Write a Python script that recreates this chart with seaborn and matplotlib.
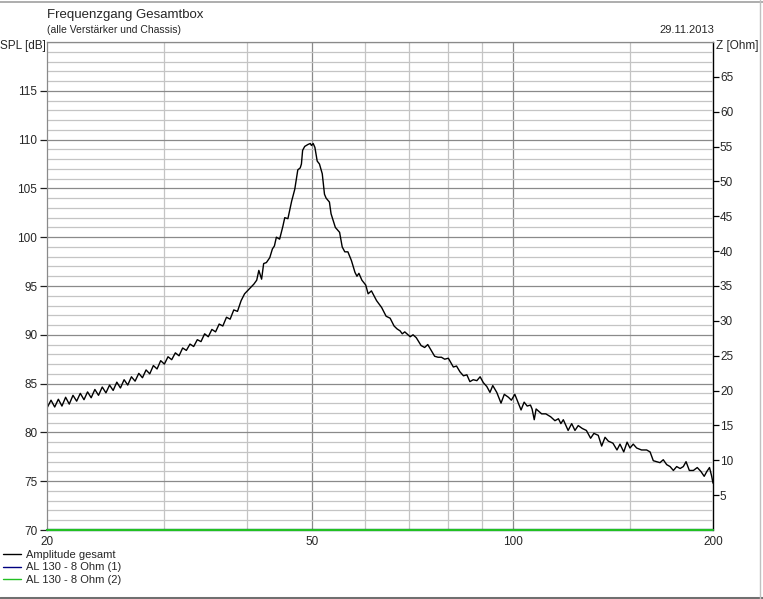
import pandas as pd
import seaborn as sns
import matplotlib.pyplot as plt
from matplotlib.ticker import NullLocator
from matplotlib.lines import Line2D

# --- data ---
freq_hz = [
    20.00, 20.28, 20.54, 20.80, 21.06, 21.33, 21.60, 21.88, 22.16, 22.44,
    22.73, 23.01, 23.30, 23.60, 23.90, 24.21, 24.52, 24.83, 25.14, 25.46,
    25.78, 26.11, 26.44, 26.78, 27.12, 27.47, 27.82, 28.17, 28.53, 28.89,
    29.26, 29.63, 30.01, 30.39, 30.78, 31.17, 31.57, 31.97, 32.38, 32.79,
    33.21, 33.63, 34.06, 34.49, 34.93, 35.37, 35.82, 36.27, 36.73, 37.20,
    37.67, 38.15, 38.64, 39.13,
    39.6, 40.9, 41.3, 41.6, 42.0, 42.3, 42.7, 43.2, 43.6, 43.9,
    44.2, 44.7, 45.2, 45.5, 46.0, 46.6, 47.1, 47.6, 48.0, 48.2,
    48.4, 48.75, 49.3, 49.7, 49.9, 50.2, 50.5, 50.9, 51.3, 51.8,
    52.2, 52.5, 53.1, 53.4, 54.2, 55.0, 55.5, 56.0, 56.6, 57.3,
    58.0, 58.4, 58.8, 59.4, 60.2, 60.7, 61.4, 62.5, 63.6, 64.6,
    65.5, 66.4, 67.1, 67.8, 68.3, 68.9, 70.2, 70.9, 71.7, 72.9,
    73.8, 74.6, 75.5, 76.4, 77.3, 78.2, 79.1, 80.1, 81.5, 82.4,
    83.4, 84.4, 85.4, 86.3, 87.3, 88.4, 89.4, 90.4, 91.5, 92.5,
    93.4, 94.7, 96.1, 97.2, 98.6, 99.6, 100.8, 101.9, 103.0, 104.1,
    105.2, 106.4, 107.0, 107.8, 108.5, 110.6, 112.2, 114.1, 115.8, 117.2,
    118.2, 119.2, 120.3, 121.2, 122.7, 124.1, 125.5, 127.3, 129.1, 131.0,
    132.5, 134.5, 136.1, 137.7, 139.3, 141.5, 143.5, 145.0, 146.9, 148.6,
    150.1, 151.8, 153.6, 156.2, 159.0, 160.9, 162.7, 164.6, 166.5, 168.4,
    170.4, 172.4, 174.4, 176.4, 178.5, 180.5, 182.2, 184.3, 186.9, 189.4,
    191.8, 194.0, 195.8, 197.6, 199.1, 200.0,
]
spl_db = [
    82.5, 83.3, 82.6, 83.4, 82.7, 83.6, 82.9, 83.8, 83.2, 84.0,
    83.35, 84.15, 83.55, 84.4, 83.8, 84.65, 84.05, 84.85, 84.3, 85.15,
    84.55, 85.4, 84.85, 85.7, 85.25, 86.05, 85.6, 86.4, 86.0, 86.85,
    86.5, 87.35, 87.0, 87.75, 87.45, 88.15, 87.85, 88.65, 88.4, 89.05,
    88.8, 89.5, 89.3, 90.1, 89.8, 90.55, 90.3, 91.1, 90.9, 91.8,
    91.6, 92.55, 92.4, 93.5,
    94.2, 95.2, 95.6, 96.6, 95.7, 97.3, 97.4, 97.9, 98.8, 99.1,
    100.0, 99.8, 101.1, 102.0, 101.9, 103.7, 104.9, 106.9, 107.1, 107.5,
    108.9, 109.3, 109.5, 109.6, 109.4, 109.6, 109.2, 107.8, 107.5, 106.5,
    104.4, 104.0, 103.6, 102.4, 101.0, 100.5, 99.0, 98.5, 98.5, 97.6,
    96.4, 96.0, 96.3, 95.6, 95.1, 94.2, 94.5, 93.5, 92.8, 91.9,
    91.7, 90.9, 90.6, 90.4, 90.1, 90.3, 89.8, 90.0, 89.7, 88.9,
    88.7, 89.0, 88.4, 87.8, 87.7, 87.7, 87.5, 87.6, 86.7, 86.8,
    86.2, 85.8, 85.9, 85.2, 85.4, 85.3, 85.7, 85.1, 84.7, 84.1,
    84.8, 84.1, 83.0, 83.9, 83.6, 83.3, 83.9, 83.1, 82.3, 83.1,
    82.7, 82.8, 82.4, 81.3, 82.4, 81.9, 81.9, 81.6, 81.2, 81.4,
    80.9, 81.3, 80.7, 80.2, 80.9, 80.2, 80.7, 80.4, 80.2, 79.4,
    79.9, 79.7, 78.6, 79.5, 79.1, 78.9, 78.2, 78.8, 78.0, 79.0,
    78.4, 78.8, 78.4, 78.2, 78.2, 78.0, 77.1, 77.0, 76.9, 77.2,
    76.7, 76.5, 76.1, 76.5, 76.3, 76.5, 77.0, 76.1, 76.1, 76.4,
    76.0, 75.5, 76.0, 76.4, 75.5, 74.8,
]

# the two chassis curves sit on the bottom edge of the chart
al130_freq_hz = [20, 200]
al130_1_db = [70.0, 70.0]
al130_2_db = [70.0, 70.0]

series_labels = ["Amplitude gesamt", "AL 130 - 8 Ohm (1)", "AL 130 - 8 Ohm (2)"]
series_colors = ["black", "#000080", "#22c022"]

x_ticks = [20, 50, 100, 200]
x_grid_major = [50, 100]
x_grid_minor = [30, 40, 60, 70, 80, 90, 150]
spl_ticks = [70, 75, 80, 85, 90, 95, 100, 105, 110, 115]
z_ticks = [5, 10, 15, 20, 25, 30, 35, 40, 45, 50, 55, 60, 65]

sns.set_style("white")
plt.rcParams["font.family"] = ["Liberation Sans", "DejaVu Sans"]

W, H = 763, 599
fig = plt.figure(figsize=(W / 100, H / 100), dpi=100)
ax = fig.add_axes([47 / W, 69 / H, 666 / W, 488 / H])

df = pd.DataFrame({"freq": freq_hz, "spl": spl_db})
df_al = pd.DataFrame({"freq": al130_freq_hz, "al1": al130_1_db, "al2": al130_2_db})

# grid first so the curve is drawn on top
for f in x_grid_minor:
    ax.axvline(f, color="#c4c4c4", lw=0.9, zorder=0)
for f in x_grid_major:
    ax.axvline(f, color="#8a8a8a", lw=0.9, zorder=0)
for v in range(71, 121):
    c = "#8a8a8a" if v % 5 == 0 else "#c4c4c4"
    ax.axhline(v, color=c, lw=0.9, zorder=0)

sns.lineplot(data=df, x="freq", y="spl", ax=ax, color=series_colors[0], lw=1.0,
             sort=False, estimator=None, label=series_labels[0])
sns.lineplot(data=df_al, x="freq", y="al1", ax=ax, color=series_colors[1], lw=1.6,
             sort=False, estimator=None, label=series_labels[1])
sns.lineplot(data=df_al, x="freq", y="al2", ax=ax, color=series_colors[2], lw=1.6,
             sort=False, estimator=None, label=series_labels[2])
for ln in ax.get_lines()[-2:]:
    ln.set_clip_on(False)
    ln.set_zorder(6)

ax.set_xscale("log")
ax.set_xlim(20, 200)
ax.set_ylim(70, 120)
ax.set_xticks(x_ticks)
ax.set_xticklabels([str(t) for t in x_ticks])
ax.xaxis.set_minor_locator(NullLocator())
ax.set_yticks(spl_ticks)
ax.set_yticklabels([str(t) for t in spl_ticks])
ax.yaxis.set_minor_locator(NullLocator())
ax.set_xlabel("")
ax.set_ylabel("")
ax.tick_params(axis="y", direction="out", length=5, width=0.9, color="#202020",
               labelsize=8.5, pad=2, left=True)
ax.tick_params(axis="x", direction="out", length=0, labelsize=8.5, pad=4, bottom=True)
for s in ["left", "top"]:
    ax.spines[s].set_color("#8a8a8a")
    ax.spines[s].set_linewidth(0.9)
ax.spines["bottom"].set_visible(False)
ax.spines["right"].set_visible(False)

handles, labels = ax.get_legend_handles_labels()
ax.get_legend().remove()

ax2 = ax.twinx()
ax2.set_zorder(ax.get_zorder() - 1)
ax.patch.set_visible(False)
ax2.set_ylim(0, 70)
ax2.set_yticks(z_ticks)
ax2.set_yticklabels([str(t) for t in z_ticks])
ax2.tick_params(axis="y", direction="out", length=4, width=0.9, color="black",
                labelsize=8.5, pad=1, right=True)
for s in ["left", "top", "bottom"]:
    ax2.spines[s].set_visible(False)
ax2.spines["right"].set_color("black")
ax2.spines["right"].set_linewidth(1.0)
ax2.grid(False)

def px(x, y):
    return x / W, 1 - y / H

fig.text(*px(47, 15), "Frequenzgang Gesamtbox", fontsize=9.5, va="center", ha="left")
fig.text(*px(47, 30), "(alle Verstärker und Chassis)", fontsize=7.5, va="center", ha="left")
fig.text(*px(714, 30), "29.11.2013", fontsize=8, va="center", ha="right")
fig.text(*px(0, 46), "SPL [dB]", fontsize=8.5, va="center", ha="left")
fig.text(*px(716, 46), "Z [Ohm]", fontsize=8.5, va="center", ha="left")

leg_handles = [Line2D([], [], color=c, lw=1.0) for c in series_colors]
fig.legend(leg_handles, labels, loc="upper left", bbox_to_anchor=px(3, 550),
           frameon=False, fontsize=8, handlelength=1.6, handletextpad=0.5,
           labelspacing=0.22, borderpad=0, borderaxespad=0)

# window frame lines
fig.add_artist(Line2D([0, 1], [1 - 2 / H, 1 - 2 / H], color="#a0a0a0", lw=1.2,
                      transform=fig.transFigure))
fig.add_artist(Line2D([0, 1], [1.5 / H, 1.5 / H], color="#707070", lw=2.2,
                      transform=fig.transFigure))
fig.add_artist(Line2D([760 / W, 760 / W], [0, 1], color="#c0c0c0", lw=1.0,
                      transform=fig.transFigure))

fig.savefig("out.png", dpi=100)
